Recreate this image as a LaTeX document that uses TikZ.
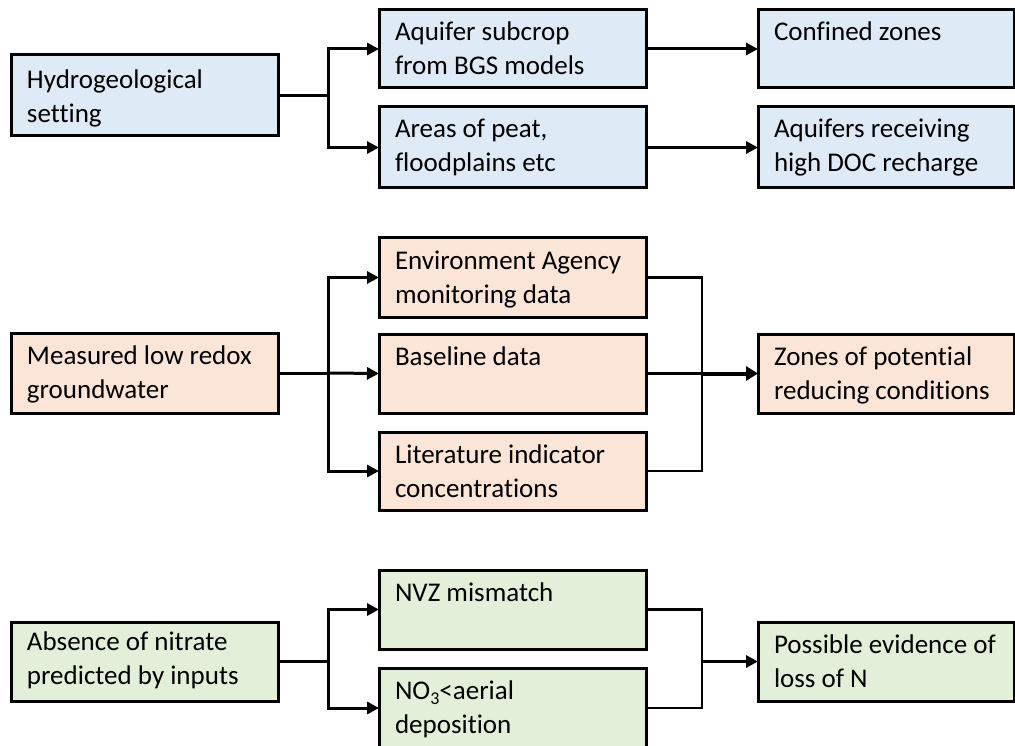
\documentclass[tikz,border=0pt]{standalone}
\usepackage{fontspec}
\setmainfont{Carlito}[Ligatures=NoCommon]
\usetikzlibrary{arrows.meta}
\definecolor{blueF}{RGB}{222,235,247}
\definecolor{peachF}{RGB}{251,229,214}
\definecolor{greenF}{RGB}{226,240,217}
\newcommand{\bxtext}[4]{\parbox[c][#1][t]{#2}{\raggedright\leftskip=16pt\relax\rule{0pt}{#3}#4}}
\newcommand{\subthree}{\raisebox{-5pt}{\fontsize{18}{18}\selectfont 3}}
\tikzset{
  bx/.style={draw=black, line width=3pt, inner sep=0pt, outer sep=0pt, anchor=north west,
    font=\fontsize{27}{34}\selectfont},
  bluebox/.style={bx, fill=blueF},
  peachbox/.style={bx, fill=peachF},
  greenbox/.style={bx, fill=greenF},
  conn/.style={line width=3pt},
  thinconn/.style={line width=2.3pt},
  arr/.style={line width=3pt, -{Triangle[length=12pt,width=12pt]}},
  thickarr/.style={line width=4pt, -{Triangle[length=12pt,width=14pt]}},
}
\begin{document}
\begin{tikzpicture}[x=1pt,y=-1pt]
\useasboundingbox (0,0) rectangle (1015,746);
\clip (0,0) rectangle (1015,746);
\fill[white] (0,0) rectangle (1015,746);
% Row 1
\node[bluebox] (A1) at (11,55) {\bxtext{81pt}{267pt}{34pt}{Hydrogeological\\setting}};
\node[bluebox] (B1) at (379,10) {\bxtext{78pt}{267pt}{31pt}{Aquifer subcrop\\from BGS models}};
\node[bluebox] (B2) at (379,107) {\bxtext{81pt}{267pt}{31pt}{Areas of peat,\\floodplains etc}};
\node[bluebox] (C1) at (758,10) {\bxtext{78pt}{256pt}{31pt}{Confined zones}};
\node[bluebox] (C2) at (758,107) {\bxtext{81pt}{256pt}{31pt}{Aquifers receiving\\high DOC recharge}};
\coordinate (j1) at (328,95.5);
\draw[conn] (A1.east) -- (j1);
\draw[arr] (j1) |- (B1.west);
\draw[arr] (j1) |- (B2.west);
\draw[arr] (B1.east) -- (C1.west);
\draw[arr] (B2.east) -- (C2.west);
% Row 2
\node[peachbox] (M) at (11,333) {\bxtext{80pt}{267pt}{31pt}{Measured low redox\\groundwater}};
\node[peachbox] (E1) at (379,238) {\bxtext{79pt}{267pt}{31pt}{Environment Agency\\monitoring data}};
\node[peachbox] (E2) at (379,334) {\bxtext{79pt}{267pt}{31pt}{Baseline data}};
\node[peachbox] (E3) at (379,432) {\bxtext{78pt}{267pt}{31pt}{Literature indicator\\concentrations}};
\node[peachbox] (Z) at (758,334) {\bxtext{79pt}{256pt}{31pt}{Zones of potential\\reducing conditions}};
\coordinate (j2) at (328,373);
\draw[conn] (M.east) -- (j2);
\draw[arr] (j2) |- (E1.west);
\draw[arr] (j2) -- (E2.west);
\draw[arr] (j2) |- (E3.west);
\coordinate (k2) at (702,373.5);
\draw[thinconn] (E1.east) -| (k2);
\draw[thinconn] (E3.east) -| (k2);
\draw[conn] (E2.east) -- (k2);
\draw[thickarr] (k2) -- (Z.west);
% Row 3
\node[greenbox] (N) at (11,622) {\bxtext{79pt}{267pt}{28pt}{Absence of nitrate\\predicted by inputs}};
\node[greenbox] (P1) at (379,570) {\bxtext{79pt}{267pt}{31pt}{NVZ mismatch}};
\node[greenbox] (P2) at (379,668) {\bxtext{80pt}{267pt}{31pt}{NO\subthree<aerial\\deposition}};
\node[greenbox] (Q) at (758,622) {\bxtext{79pt}{256pt}{31pt}{Possible evidence of\\loss of N}};
\coordinate (j3) at (328,661.5);
\draw[conn] (N.east) -- (j3);
\draw[arr] (j3) |- (P1.west);
\draw[arr] (j3) |- (P2.west);
\coordinate (k3) at (702,661.5);
\draw[thinconn] (P1.east) -| (k3);
\draw[thinconn] (P2.east) -| (k3);
\draw[arr] (k3) -- (Q.west);
\end{tikzpicture}
\end{document}
